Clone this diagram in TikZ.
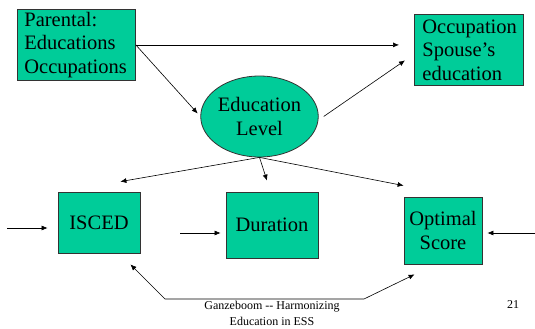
\documentclass[tikz,border=0pt]{standalone}
\usepackage{fontspec}
\setmainfont{Liberation Serif}
\usepackage{tikz}
\usetikzlibrary{positioning,arrows.meta,shapes.geometric,calc}

\definecolor{boxgreen}{RGB}{0,204,153}

\begin{document}
\begin{tikzpicture}[
  x=1pt, y=-1pt,
  font=\fontsize{20.5}{23.5}\selectfont,
  box/.style={draw=black!80, line width=0.8pt, fill=boxgreen, align=center, inner sep=0pt},
  lbox/.style={box, align=left, inner xsep=7pt, anchor=north west},
  oval/.style={draw=black!80, line width=0.8pt, fill=boxgreen, ellipse, align=center, inner sep=0pt},
  arr/.style={-{Latex[length=6pt,width=5pt]}, semithick},
  darr/.style={{Latex[length=6pt,width=5pt]}-{Latex[length=6pt,width=5pt]}, semithick},
  foot/.style={font=\fontsize{12}{16}\selectfont, align=center}]

\useasboundingbox (0,0) rectangle (535,329);

% Top row: background and outcome
\node[lbox, text width=104pt, minimum height=71pt] (par) at (17,9) {Parental:\\Educations\\Occupations};
\node[lbox, text width=93pt, minimum height=71pt, inner xsep=8pt] (occ) at (414,14) {Occupation\\Spouse's\\education};

% Middle: latent education
\node[oval, minimum width=107pt, minimum height=81pt] (edu) at (259.5,116.5) {Education\\Level};

% Bottom row: measures
\node[box, minimum width=82pt, minimum height=61pt] (isc) at (99,222.5) {ISCED};
\node[box, minimum width=92pt, minimum height=66pt] (dur) at (272,225) {Duration};
\node[box, minimum width=78pt, minimum height=67pt] (opt) at (443,230.5) {Optimal\\Score};

% Free ends of the input arrows and the bend points of the link below
\coordinate (inisc) at (7,228);
\coordinate (indur) at (180,233);
\coordinate (inopt) at (535,233);
\coordinate (bendl) at (165,299);
\coordinate (bendr) at (364,299);

% Edges
\draw[arr, shorten >=15pt] (par.east) -- (par.east -| occ.west);
\draw[arr, shorten >=4pt] (par.east) -- (edu.west);
\draw[arr] ($(edu.east)+(5,0)$) -- ($(occ.west)+(-9,10.5)$);
\draw[arr] (edu.south) -- ($(isc.north east)+(-20,-10)$);
\draw[arr] (edu.south) -- ($(dur.north)+(-5,-11)$);
\draw[arr] (edu.south) -- ($(opt.north west)+(0,-11)$);
\draw[arr] (inisc) -- (inisc -| {$(isc.west)+(-10,0)$});
\draw[arr] (indur) -- (indur -| {$(dur.west)+(-5,0)$});
\draw[arr] (inopt) -- (inopt -| {$(opt.east)+(5,0)$});
\draw[darr] ($(isc.south east)+(-10,11)$) -- (bendl) -- (bendr) -- ($(opt.south west)+(11,10)$);

% Footer
\node[foot] (ftxt) at (272,313) {Ganzeboom -{}- Harmonizing\\Education in ESS};
\node[foot] (fnum) at (513,305) {21};
\end{tikzpicture}
\end{document}
